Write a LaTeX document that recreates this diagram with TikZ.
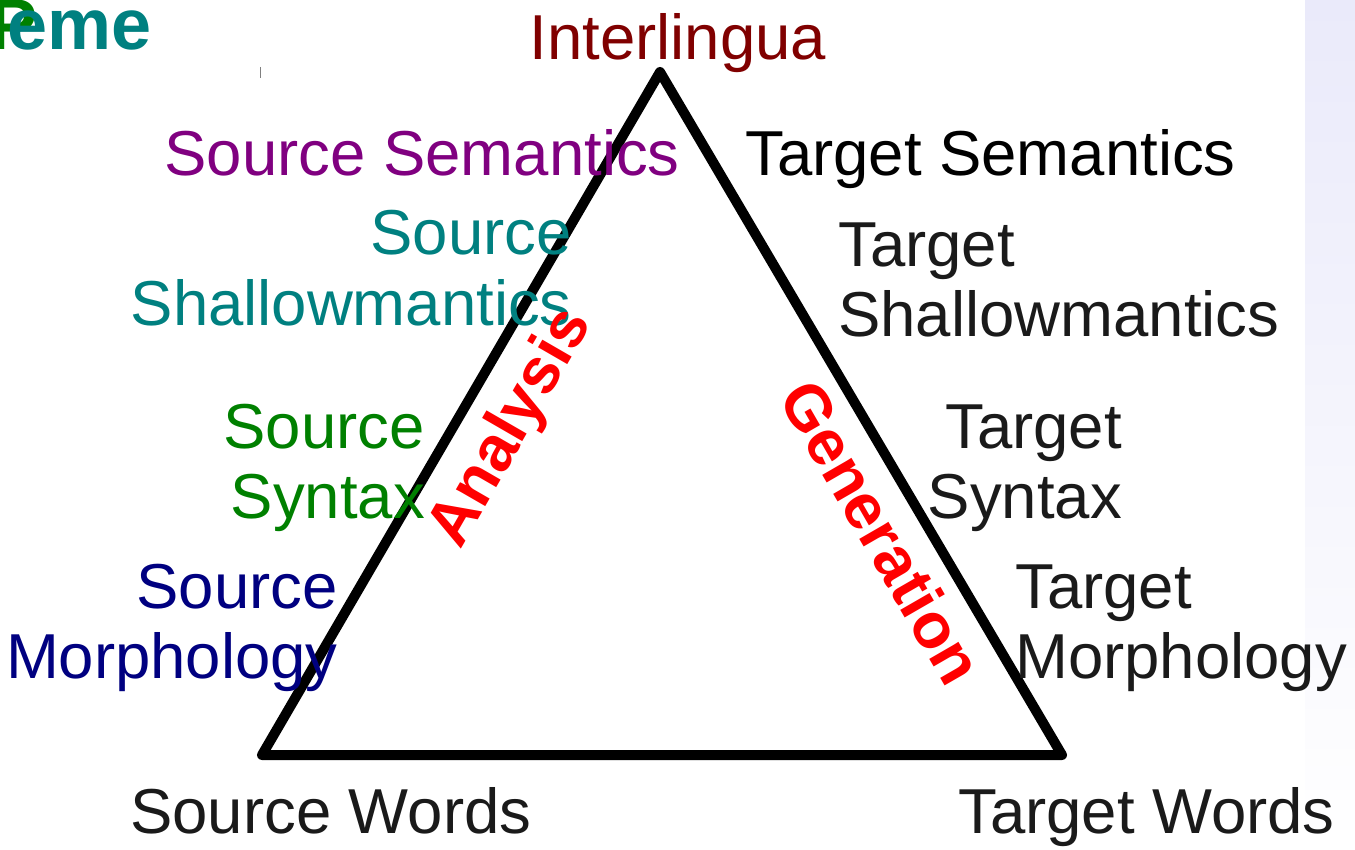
\documentclass[tikz,border=0pt]{standalone}
\usepackage{fontspec}
\setmainfont{Liberation Sans}
\definecolor{ilred}{RGB}{128,0,0}
\definecolor{sempurple}{RGB}{128,0,128}
\definecolor{shteal}{RGB}{0,128,128}
\definecolor{syngreen}{RGB}{0,128,0}
\definecolor{morphnavy}{RGB}{0,0,128}
\definecolor{tgtgray}{RGB}{26,26,26}
\definecolor{bandblue}{RGB}{234,234,250}
\tikzset{
  lbl/.style={inner sep=0pt, font=\fontsize{63.5}{70}\selectfont},
  dirlbl/.style={inner sep=0pt, text=red, font=\fontsize{64}{70}\selectfont\bfseries},
}

\begin{document}
\begin{tikzpicture}[x=1pt, y=-1pt]
\useasboundingbox (0,0) rectangle (1355,850);
\shade[top color=bandblue, bottom color=white] (1305,0) rectangle (1355,850);
\node[inner sep=0pt, anchor=base east, text=syngreen, font=\fontsize{72}{80}\selectfont\bfseries] (hdrP) at (38,50) {P};
\node[inner sep=0pt, anchor=base west, text=shteal, font=\fontsize{72}{80}\selectfont\bfseries] (hdr) at (7,50) {eme};
\draw[gray, line width=1pt] (260,67) -- (260,78);
\coordinate (top) at (660,72);
\coordinate (bl) at (262,755);
\coordinate (br) at (1062,755);
\draw[black, line width=10pt, line join=round] (top) -- (bl) -- (br) -- cycle;
\node[lbl, anchor=base, text=ilred] (il) at (678,60) {Interlingua};
\node[lbl, anchor=base east, text=sempurple] (ssem) at (680,176) {Source Semantics};
\node[lbl, anchor=base east, text=shteal] (sshA) at (572,255) {Source};
\node[lbl, anchor=base east, text=shteal] (sshB) at (572,326) {Shallowmantics};
\node[lbl, anchor=base east, text=syngreen] (ssynA) at (425,448) {Source};
\node[lbl, anchor=base east, text=syngreen] (ssynB) at (425,518) {Syntax};
\node[lbl, anchor=base east, text=morphnavy] (smorA) at (338,608) {Source};
\node[lbl, anchor=base east, text=morphnavy] (smorB) at (338,678) {Morphology};
\node[lbl, anchor=base west, text=black] (tsem) at (745,176) {Target Semantics};
\node[lbl, anchor=base west, text=tgtgray] (tshA) at (838,267) {Target};
\node[lbl, anchor=base west, text=tgtgray] (tshB) at (838,337) {Shallowmantics};
\node[lbl, anchor=base east, text=tgtgray] (tsynA) at (1122,448) {Target};
\node[lbl, anchor=base east, text=tgtgray] (tsynB) at (1122,518) {Syntax};
\node[lbl, anchor=base west, text=tgtgray] (tmorA) at (1015,608) {Target};
\node[lbl, anchor=base west, text=tgtgray] (tmorB) at (1015,678) {Morphology};
\node[lbl, anchor=base west, text=tgtgray] (swords) at (130,833) {Source Words};
\node[lbl, anchor=base west, text=tgtgray] (twords) at (958,833) {Target Words};
% process labels along the sides
\node[dirlbl, rotate=60] (ana) at (512,428) {Analysis};
\node[dirlbl, rotate=-60] (gen) at (882,532) {Generation};
\end{tikzpicture}
\end{document}
